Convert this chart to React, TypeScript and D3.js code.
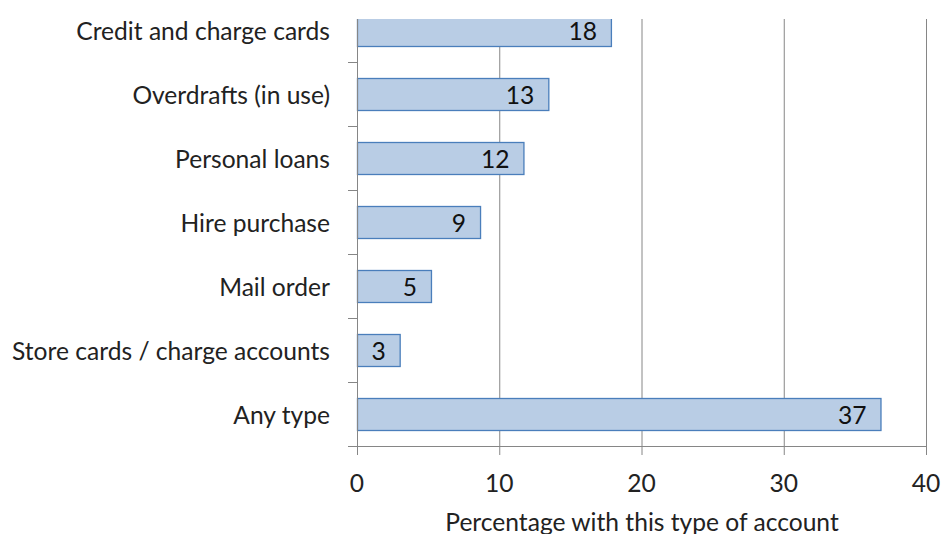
import { useEffect, useRef } from 'react';
import * as d3 from 'd3';

// category labels, top to bottom
const categories = [
  'Credit and charge cards',
  'Overdrafts (in use)',
  'Personal loans',
  'Hire purchase',
  'Mail order',
  'Store cards / charge accounts',
  'Any type',
];

// percentage values
const values = [17.85, 13.45, 11.7, 8.65, 5.2, 3.0, 36.8];

const xTicks = [0, 10, 20, 30, 40];
const xTitle = 'Percentage with this type of account';

const FONT = 'Lato, "Open Sans", sans-serif';
const FS = '24.6px';

export default function App() {
  const svgRef = useRef<SVGSVGElement>(null);
  const width = 944;
  const height = 534;

  useEffect(() => {
    document.body.style.margin = '0';
    if (!svgRef.current) return;
    const svg = d3.select(svgRef.current);
    svg.selectAll('*').remove();

    const left = 357;
    const right = 926;
    const plotTop = 19;
    const bottom = 446;

    const x = d3.scaleLinear().domain([0, 40]).range([left, right]);
    // band range starts above the visible plot, so the top bar is clipped
    const y = d3
      .scaleBand()
      .domain(categories)
      .range([bottom - 64 * categories.length, bottom])
      .paddingInner(0.5)
      .paddingOuter(0.25);

    const defs = svg.append('defs');
    defs
      .append('clipPath')
      .attr('id', 'plot-clip')
      .append('rect')
      .attr('x', left - 1)
      .attr('y', plotTop)
      .attr('width', right - left + 2)
      .attr('height', bottom - plotTop);

    // vertical gridlines
    svg
      .append('g')
      .selectAll('line')
      .data(xTicks.slice(1))
      .enter()
      .append('line')
      .attr('x1', (d) => x(d) + 0.5)
      .attr('x2', (d) => x(d) + 0.5)
      .attr('y1', plotTop)
      .attr('y2', bottom)
      .attr('stroke', '#868686')
      .attr('stroke-width', 1);

    // bars
    const barG = svg.append('g').attr('clip-path', 'url(#plot-clip)');
    barG
      .selectAll('rect')
      .data(values)
      .enter()
      .append('rect')
      .attr('x', x(0) + 0.5)
      .attr('y', (_d, i) => (y(categories[i]) ?? 0) + 0.5)
      .attr('width', (d) => x(d) - x(0))
      .attr('height', y.bandwidth())
      .attr('fill', '#b9cde5')
      .attr('stroke', '#4a7ebb')
      .attr('stroke-width', 1.3);

    // value labels inside bar ends
    barG
      .selectAll('text')
      .data(values)
      .enter()
      .append('text')
      .attr('x', (d) => x(d) - 14)
      .attr('y', (_d, i) => (y(categories[i]) ?? 0) + y.bandwidth() / 2)
      .attr('text-anchor', 'end')
      .attr('dominant-baseline', 'central')
      .style('font-family', FONT)
      .style('font-size', FS)
      .style('fill', '#111')
      .text((d) => String(Math.round(d)));

    // y axis line + ticks at band boundaries
    const yAxis = svg.append('g');
    yAxis
      .append('line')
      .attr('x1', left + 0.5)
      .attr('x2', left + 0.5)
      .attr('y1', plotTop)
      .attr('y2', bottom)
      .attr('stroke', '#868686');
    yAxis
      .selectAll('line.tick')
      .data(categories.slice(1).concat(['end']))
      .enter()
      .append('line')
      .attr('class', 'tick')
      .attr('x1', left - 9)
      .attr('x2', left + 0.5)
      .attr('y1', (d) => (d === 'end' ? bottom : (y(d) ?? 0) - y.step() * 0.25) + 0.5)
      .attr('y2', (d) => (d === 'end' ? bottom : (y(d) ?? 0) - y.step() * 0.25) + 0.5)
      .attr('stroke', '#868686');
    yAxis
      .selectAll('text')
      .data(categories)
      .enter()
      .append('text')
      .attr('x', 330)
      .attr('y', (d) => (y(d) ?? 0) + y.bandwidth() / 2)
      .attr('text-anchor', 'end')
      .attr('dominant-baseline', 'central')
      .style('font-family', FONT)
      .style('font-size', FS)
      .style('fill', '#222')
      .text((d) => d);

    // x axis
    const xAxis = svg.append('g');
    xAxis
      .append('line')
      .attr('x1', left)
      .attr('x2', right + 1)
      .attr('y1', bottom + 0.5)
      .attr('y2', bottom + 0.5)
      .attr('stroke', '#868686');
    xAxis
      .selectAll('line.tick')
      .data(xTicks)
      .enter()
      .append('line')
      .attr('class', 'tick')
      .attr('x1', (d) => x(d) + 0.5)
      .attr('x2', (d) => x(d) + 0.5)
      .attr('y1', bottom)
      .attr('y2', bottom + 9)
      .attr('stroke', '#868686');
    xAxis
      .selectAll('text')
      .data(xTicks)
      .enter()
      .append('text')
      .attr('x', (d) => x(d))
      .attr('y', 482)
      .attr('text-anchor', 'middle')
      .attr('dominant-baseline', 'central')
      .style('font-family', FONT)
      .style('font-size', FS)
      .style('fill', '#222')
      .text((d) => String(d));

    svg
      .append('text')
      .attr('x', 642)
      .attr('y', 521)
      .attr('text-anchor', 'middle')
      .attr('dominant-baseline', 'central')
      .style('font-family', FONT)
      .style('font-size', FS)
      .style('fill', '#222')
      .text(xTitle);
  }, []);

  return (
    <svg
      ref={svgRef}
      width={width}
      height={height}
      style={{ display: 'block', background: '#fff' }}
    />
  );
}
